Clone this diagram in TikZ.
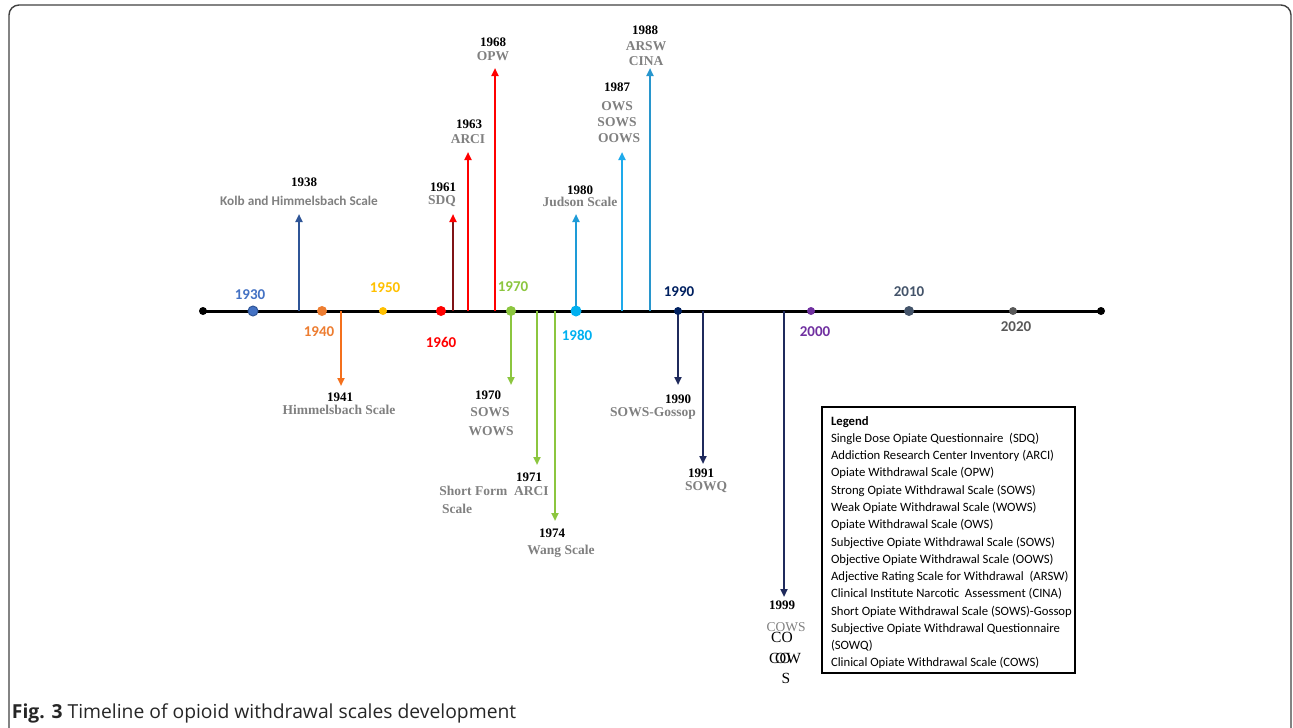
\documentclass[tikz,border=0pt]{standalone}
\usepackage{fontspec}
\setmainfont{Liberation Serif}
\setsansfont{Carlito}
\newfontfamily\capfont{Open Sans}
\usepackage{tikz}
\usetikzlibrary{arrows.meta,positioning}
\definecolor{col30}{RGB}{68,114,196}
\definecolor{col38}{RGB}{47,85,151}
\definecolor{col40}{RGB}{237,125,49}
\definecolor{col41}{RGB}{244,112,28}
\definecolor{col50}{RGB}{255,192,0}
\definecolor{col60}{RGB}{255,0,0}
\definecolor{col61}{RGB}{128,20,22}
\definecolor{col70}{RGB}{140,198,63}
\definecolor{col80}{RGB}{0,176,240}
\definecolor{col80a}{RGB}{30,155,215}
\definecolor{col87}{RGB}{30,170,235}
\definecolor{col88}{RGB}{40,150,205}
\definecolor{col90}{RGB}{0,32,96}
\definecolor{col90a}{RGB}{31,42,92}
\definecolor{col00}{RGB}{112,48,160}
\definecolor{col10}{RGB}{68,84,106}
\definecolor{col20}{RGB}{89,89,89}
\definecolor{labgray}{RGB}{128,128,128}

\begin{document}
\begin{tikzpicture}[x=1pt,y=-1pt,
  every node/.style={inner sep=0pt, outer sep=0pt},
  dot/.style={circle, minimum size=10pt},
  smalldot/.style={circle, minimum size=8pt},
  axislabel/.style={font=\sffamily\bfseries\fontsize{15}{18}\selectfont},
  yr/.style={font=\bfseries\fontsize{13}{15}\selectfont},
  scalename/.style={font=\bfseries\fontsize{13.5}{16}\selectfont, text=labgray},
  legtext/.style={font=\sffamily\fontsize{12.7}{15}\selectfont, anchor=west},
  marker/.style={line width=2.4pt, -{Triangle[width=7pt,length=8pt]}}]
\useasboundingbox (0,0) rectangle (1293,728);
\draw[line width=1.4pt, black!75, rounded corners=10pt] (9,736) -- (9,5) -- (1291,5) -- (1291,736);

% Timeline
\coordinate (start) at (203,311);
\coordinate (stop) at (1101,311);
\draw[line width=3pt] (start) -- (stop);
\fill (start) circle (4pt);
\fill (stop) circle (4pt);

% Arrow bases on the timeline
\coordinate (b1938) at (299,311);
\coordinate (b1941) at (341,311);
\coordinate (b1961) at (453,311);
\coordinate (b1963) at (468,311);
\coordinate (b1968) at (495,311);
\coordinate (b1970) at (511,311);
\coordinate (b1971) at (537,311);
\coordinate (b1974) at (555,311);
\coordinate (b1980) at (576,311);
\coordinate (b1987) at (622,311);
\coordinate (b1988) at (650,311);
\coordinate (b1990) at (678,311);
\coordinate (b1991) at (703,311);
\coordinate (b1999) at (784,311);

% Arrow tips
\coordinate (t1938) at (299,214);
\coordinate (t1941) at (341,386);
\coordinate (t1961) at (453,214);
\coordinate (t1963) at (468,152);
\coordinate (t1968) at (495,68);
\coordinate (t1970) at (511,385);
\coordinate (t1971) at (537,465);
\coordinate (t1974) at (555,521);
\coordinate (t1980) at (576,214);
\coordinate (t1987) at (622,152);
\coordinate (t1988) at (650,68);
\coordinate (t1990) at (678,385);
\coordinate (t1991) at (703,464);
\coordinate (t1999) at (784,597);

% Arrows
\draw[marker, col38] (b1938) -- (t1938);
\draw[marker, col41] (b1941) -- (t1941);
\draw[line width=2.4pt, col61, -{Triangle[width=7pt,length=8pt,color=col60]}] (b1961) -- (t1961);
\draw[marker, col60] (b1963) -- (t1963);
\draw[marker, col60] (b1968) -- (t1968);
\draw[marker, col70] (b1970) -- (t1970);
\draw[marker, col70] (b1971) -- (t1971);
\draw[marker, col70] (b1974) -- (t1974);
\draw[marker, col80a] (b1980) -- (t1980);
\draw[marker, col87] (b1987) -- (t1987);
\draw[marker, col88] (b1988) -- (t1988);
\draw[marker, col90a] (b1990) -- (t1990);
\draw[marker, col90a] (b1991) -- (t1991);
\draw[marker, col90a] (b1999) -- (t1999);

% Decade dots
\node[dot, fill=col30, draw=col38, line width=1pt] (d1930) at (253,311) {};
\node[dot, fill=col40] (d1940) at (322,311) {};
\node[smalldot, fill=col50] (d1950) at (383,311) {};
\node[dot, fill=col60] (d1960) at (441,311) {};
\node[dot, fill=col70] (d1970) at (511,311) {};
\node[dot, minimum size=11pt, fill=col80] (d1980) at (576,311) {};
\node[smalldot, fill=col90] (d1990) at (678,311) {};
\node[smalldot, fill=col00] (d2000) at (811,311) {};
\node[dot, fill=col10] (d2010) at (909,311) {};
\node[smalldot, fill=col20] (d2020) at (1013,311) {};

% Decade labels
\node[axislabel, text=col30] (l1930) at (250,295) {1930};
\node[axislabel, text=col40] (l1940) at (319,332) {1940};
\node[axislabel, text=col50] (l1950) at (385,288) {1950};
\node[axislabel, text=col60] (l1960) at (441,342) {1960};
\node[axislabel, text=col70] (l1970) at (513,287) {1970};
\node[axislabel, text=col80] (l1980) at (577,335) {1980};
\node[axislabel, text=col90] (l1990) at (679,292) {1990};
\node[axislabel, text=col00] (l2000) at (815,332) {2000};
\node[axislabel, text=col10] (l2010) at (909,292) {2010};
\node[axislabel, text=col20] (l2020) at (1016,327) {2020};

% Scales above the line
\node[yr] (y1938) at (304,182) {1938};
\node[font=\sffamily\bfseries\fontsize{13.3}{16}\selectfont, text=labgray] (s1938) at (299,201) {Kolb and Himmelsbach Scale};
\node[yr] (y1961) at (443,187) {1961};
\node[scalename] (s1961) at (442,201) {SDQ};
\node[yr] (y1963) at (469,124) {1963};
\node[scalename] (s1963) at (468,139) {ARCI};
\node[yr] (y1968) at (493,42) {1968};
\node[scalename] (s1968) at (493,56) {OPW};
\node[yr] (y1980) at (580,190) {1980};
\node[scalename] (s1980) at (580,202) {Judson Scale};
\node[yr] (y1987) at (617,87) {1987};
\node[scalename] (s1987a) at (617,106) {OWS};
\node[scalename] (s1987b) at (617,122) {SOWS};
\node[scalename] (s1987c) at (619,138) {OOWS};
\node[yr] (y1988) at (645,30) {1988};
\node[scalename] (s1988a) at (646,46) {ARSW};
\node[scalename] (s1988b) at (646,61) {CINA};

% Scales below the line
\node[yr] (y1941) at (340,397) {1941};
\node[scalename] (s1941) at (339,410) {Himmelsbach Scale};
\node[yr] (y1970) at (488,395) {1970};
\node[scalename] (s1970a) at (490,412) {SOWS};
\node[scalename] (s1970b) at (491,431) {WOWS};
\node[yr] (y1971) at (529,477) {1971};
\node[scalename] (s1971a) at (494,491) {Short Form\ \ ARCI};
\node[scalename, anchor=west] (s1971b) at (442,509) {Scale};
\node[yr] (y1974) at (552,533) {1974};
\node[scalename] (s1974) at (561,551) {Wang Scale};
\node[yr] (y1990) at (678,399) {1990};
\node[scalename] (s1990) at (653,413) {SOWS-Gossop};
\node[yr] (y1991) at (701,473) {1991};
\node[scalename] (s1991) at (706,487) {SOWQ};
\node[yr] (y1999) at (782,605) {1999};
\node[scalename, font=\fontsize{13.5}{16}\selectfont] (s1999) at (786,627) {COWS};
\node[font=\fontsize{15.5}{18}\selectfont] (c1999a) at (782,637) {CO};
\node[font=\fontsize{15.5}{18}\selectfont] (c1999b) at (780,658) {CO};
\node[font=\fontsize{15.5}{18}\selectfont] (c1999c) at (788,658) {OW};
\node[font=\fontsize{15.5}{18}\selectfont] (c1999d) at (786,678) {S};

% Legend
\node[draw, line width=1.3pt, anchor=north west, minimum width=253pt, minimum height=266pt] (legend) at (822,407) {};
\begin{scope}
\clip (legend.north west) rectangle (legend.south east);
\node[legtext, font=\sffamily\bfseries\fontsize{12.7}{15}\selectfont] (leg0) at (831,422) {Legend};
\node[legtext] (leg1) at (831,439) {Single Dose Opiate Questionnaire\ \ (SDQ)};
\node[legtext] (leg2) at (831,456) {Addiction Research Center Inventory (ARCI)};
\node[legtext] (leg3) at (831,473) {Opiate Withdrawal Scale (OPW)};
\node[legtext] (leg4) at (831,491) {Strong Opiate Withdrawal Scale (SOWS)};
\node[legtext] (leg5) at (831,508) {Weak Opiate Withdrawal\ Scale (WOWS)};
\node[legtext] (leg6) at (831,525) {Opiate Withdrawal Scale (OWS)};
\node[legtext] (leg7) at (831,543) {Subjective Opiate Withdrawal Scale (SOWS)};
\node[legtext] (leg8) at (831,560) {Objective Opiate Withdrawal Scale (OOWS)};
\node[legtext] (leg9) at (831,577) {Adjective Rating Scale for Withdrawal\ \ (ARSW)};
\node[legtext] (leg10) at (831,594) {Clinical Institute Narcotic\ \ Assessment (CINA)};
\node[legtext] (leg11) at (831,612) {Short Opiate Withdrawal Scale (SOWS)-Gossop};
\node[legtext] (leg12) at (831,629) {Subjective Opiate Withdrawal Questionnaire};
\node[legtext] (leg13) at (831,646) {(SOWQ)};
\node[legtext] (leg14) at (831,663) {Clinical Opiate Withdrawal Scale (COWS)};
\end{scope}

% Caption
\node[anchor=base west, font=\capfont\fontsize{19.3}{23}\selectfont, text=black!85] (caption) at (12,718) {\textbf{Fig. 3} Timeline of opioid withdrawal scales development};
\end{tikzpicture}
\end{document}
